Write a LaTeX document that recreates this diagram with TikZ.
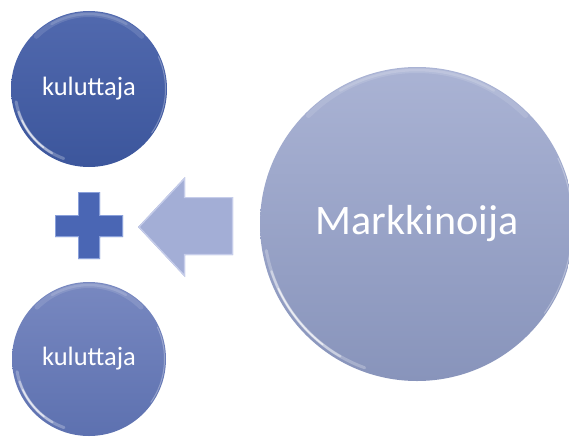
\documentclass[tikz,border=0pt]{standalone}
\usepackage{fontspec}
\setmainfont{Carlito}
\definecolor{topA}{HTML}{5169AE}
\definecolor{botA}{HTML}{3C569C}
\definecolor{topB}{HTML}{7888C0}
\definecolor{botB}{HTML}{5D71B0}
\definecolor{topC}{HTML}{AAB3D4}
\definecolor{botC}{HTML}{8894BB}
\definecolor{plusC}{HTML}{4A66B4}
\definecolor{plusE}{HTML}{8AA0DA}
\definecolor{arrC}{HTML}{A3AED6}
\definecolor{arrE}{HTML}{C6CDEA}
\begin{document}
\begin{tikzpicture}[x=1pt,y=-1pt]
\tikzset{
  ball/.style={circle, draw=none, inner sep=0pt, text=white},
  gloss/.style={white, line cap=round}
}
\useasboundingbox (0,0) rectangle (569,436);
% circles
\node[ball, minimum size=156pt, top color=topA, bottom color=botA,
      font=\fontsize{26.5}{30}\selectfont] (k1) at (89,89) {kuluttaja};
\node[ball, minimum size=154pt, top color=topB, bottom color=botB,
      font=\fontsize{26.5}{30}\selectfont] (k2) at (89,359) {kuluttaja};
\node[ball, minimum size=314pt, top color=topC, bottom color=botC,
      font=\fontsize{42}{50}\selectfont] (m) at (417,224) {Markkinoija};
% gloss highlights
\foreach \n/\r in {k1/78, k2/77, m/157}{
  % lower-left crescent
  \draw[gloss, opacity=0.25, line width=3pt] ([shift={(190:\r pt-4pt)}]\n.center) arc[start angle=190, end angle=250, radius=\r pt-4pt];
  \draw[gloss, opacity=0.4, line width=2.2pt] ([shift={(198:\r pt-4pt)}]\n.center) arc[start angle=198, end angle=240, radius=\r pt-4pt];
  \draw[gloss, opacity=0.6, line width=1.5pt] ([shift={(205:\r pt-4pt)}]\n.center) arc[start angle=205, end angle=232, radius=\r pt-4pt];
  % top rim
  \draw[gloss, opacity=0.12, line width=5pt] ([shift={(45:\r pt-3.5pt)}]\n.center) arc[start angle=45, end angle=135, radius=\r pt-3.5pt];
  \draw[gloss, opacity=0.15, line width=2.5pt] ([shift={(60:\r pt-3pt)}]\n.center) arc[start angle=60, end angle=120, radius=\r pt-3pt];
  % right rim
  \draw[gloss, opacity=0.3, line width=1pt] ([shift={(-35:\r pt-1.5pt)}]\n.center) arc[start angle=-35, end angle=25, radius=\r pt-1.5pt];
}
% plus sign
\fill[plusC] (78,192) -- (100,192) -- (100,215) -- (123,215) -- (123,237) -- (100,237)
  -- (100,259) -- (78,259) -- (78,237) -- (55,237) -- (55,215) -- (78,215) -- cycle;
\draw[plusE, line width=1.2pt, line join=miter] (78.6,192.6) -- (99.4,192.6) -- (99.4,215.6) -- (122.4,215.6) -- (122.4,236.4) -- (99.4,236.4)
  -- (99.4,258.4) -- (78.6,258.4) -- (78.6,236.4) -- (55.6,236.4) -- (55.6,215.6) -- (78.6,215.6) -- cycle;
\fill[plusC] (81,195) -- (97,195) -- (97,218) -- (120,218) -- (120,234) -- (97,234)
  -- (97,256) -- (81,256) -- (81,234) -- (58,234) -- (58,218) -- (81,218) -- cycle;
% arrow
\fill[arrC] (138,227) -- (185,177) -- (185,197) -- (233,197) -- (233,255) -- (185,255) -- (185,277) -- cycle;
\draw[arrE, line width=1.2pt, line join=miter] (139,227) -- (184.4,178.6) -- (184.4,197.6) -- (232.4,197.6) -- (232.4,254.4) -- (184.4,254.4) -- (184.4,275.4) -- cycle;
\fill[arrC] (143,227) -- (182,185) -- (182,200) -- (230,200) -- (230,252) -- (182,252) -- (182,269) -- cycle;
\end{tikzpicture}
\end{document}
